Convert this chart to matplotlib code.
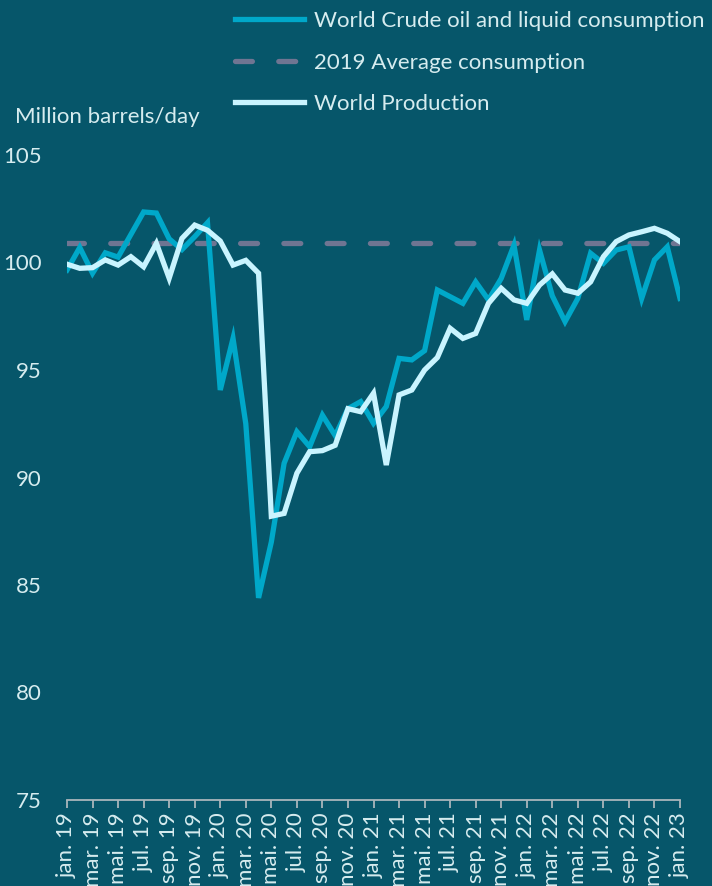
import matplotlib.pyplot as plt
import numpy as np

# Monthly data, jan. 2019 - jan. 2023 (million barrels/day)
consumption = [99.65, 100.7, 99.5, 100.45, 100.25, 101.3, 102.35, 102.3, 101.1, 100.6,
               101.2, 101.85, 94.07, 96.47, 92.5, 84.4, 87.0, 90.66, 92.13, 91.43,
               92.9, 91.95, 93.2, 93.53, 92.52, 93.3, 95.54, 95.47, 95.9, 98.72,
               98.41, 98.1, 99.1, 98.26, 99.26, 100.81, 97.33, 100.58, 98.45, 97.25,
               98.33, 100.43, 99.96, 100.58, 100.73, 98.33, 100.12, 100.73, 98.33]
production = [99.92, 99.73, 99.76, 100.12, 99.88, 100.27, 99.8, 100.89, 99.27, 101.12,
              101.74, 101.5, 101.0, 99.88, 100.1, 99.5, 88.2, 88.33, 90.2, 91.2,
              91.25, 91.5, 93.2, 93.06, 93.92, 90.58, 93.84, 94.07, 95.0, 95.58,
              96.94, 96.47, 96.7, 98.1, 98.8, 98.26, 98.1, 98.95, 99.47, 98.72,
              98.57, 99.1, 100.27, 100.97, 101.28, 101.43, 101.59, 101.36, 100.97]
avg_2019 = 100.9

months = ['jan.', 'mar.', 'mai.', 'jul.', 'sep.', 'nov.']
tick_labels = [f'{m} {y}' for y in range(19, 23) for m in months] + ['jan. 23']

BG = '#06566a'
TXT = '#d6ecef'
BLUE = '#00a8c9'
WHITE = '#c9f4ff'
GREY = '#6f7592'
FS = 16

plt.rcParams['font.family'] = ['Lato', 'DejaVu Sans']

fig = plt.figure(figsize=(7.12, 8.86), dpi=100, facecolor=BG)
W, H = 712, 886
ax = fig.add_axes([67 / W, (H - 800) / H, (680 - 67) / W, (800 - 155) / H])
ax.set_facecolor(BG)

x = np.arange(len(consumption))
ax.plot(x, consumption, color=BLUE, lw=3.8, solid_joinstyle='miter',
        label='World Crude oil and liquid consumption', zorder=3)
ax.axhline(avg_2019, color=GREY, lw=3.8, dashes=(3.2, 5.0), dash_capstyle='round',
           label='2019 Average consumption', zorder=2)
ax.plot(x, production, color=WHITE, lw=3.8, solid_joinstyle='miter',
        label='World Production', zorder=4)

ax.set_xlim(0, len(x) - 1)
ax.set_ylim(75, 105)
ax.set_yticks(range(75, 106, 5))
ax.set_xticks(np.arange(0, len(x), 2))
ax.set_xticklabels(tick_labels, rotation=90, fontsize=FS, color=TXT)
ax.tick_params(axis='y', length=0, pad=18, labelsize=FS, labelcolor=TXT)
ax.tick_params(axis='x', length=6, width=1.3, color='#a9b6bb', pad=3)

for side in ['top', 'right', 'left']:
    ax.spines[side].set_visible(False)
ax.spines['bottom'].set_color('#a9b6bb')
ax.spines['bottom'].set_linewidth(1.3)

fig.text(15 / W, 1 - 117 / H, 'Million barrels/day', fontsize=FS, color=TXT,
         va='center', ha='left')

fig.legend(loc='upper left', bbox_to_anchor=(215 / W, 1 + 9 / H), frameon=False,
           fontsize=FS, labelcolor=TXT, handlelength=3.1, handletextpad=0.45,
           labelspacing=0.97)

fig.savefig('out.png', dpi=100, facecolor=BG)
